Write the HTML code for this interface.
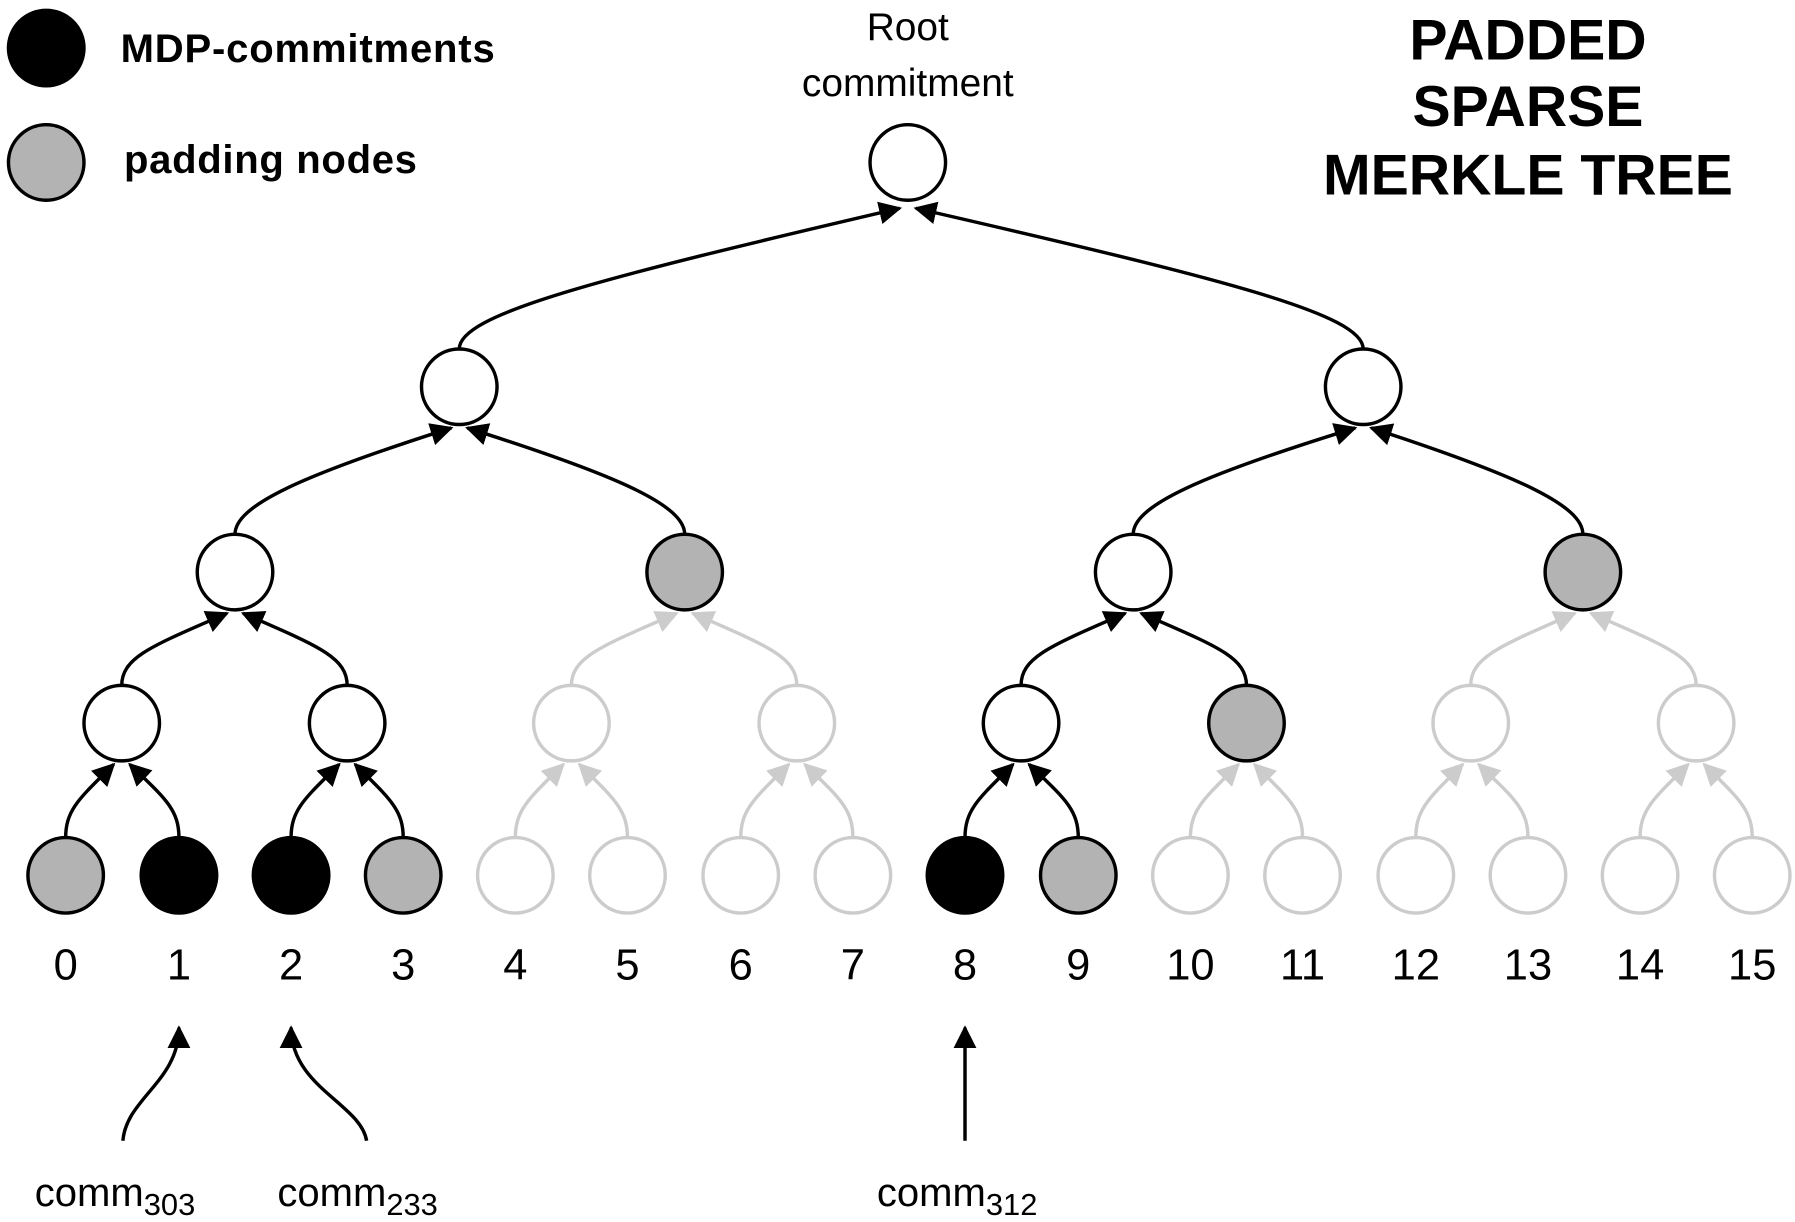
<!DOCTYPE html>
<html><head><meta charset="utf-8"><style>
html,body{margin:0;padding:0;background:#fff;}
svg{display:block;}
text{font-family:"Liberation Sans",sans-serif;}
</style></head><body>
<svg width="1795" height="1222" viewBox="0 0 1568 1068" xmlns="http://www.w3.org/2000/svg">
<defs>
<marker id="abk" viewBox="0 0 10 10" refX="9" refY="5" markerWidth="20" markerHeight="20" orient="auto" markerUnits="userSpaceOnUse"><path d="M0,0 L10,5 L0,10 z" fill="#000"/></marker>
<marker id="agr" viewBox="0 0 10 10" refX="9" refY="5" markerWidth="20" markerHeight="20" orient="auto" markerUnits="userSpaceOnUse"><path d="M0,0 L10,5 L0,10 z" fill="#ccc"/></marker>
</defs>
<g fill="none" stroke-width="3" stroke="#000" marker-end="url(#abk)">
<path d="M57,732 C57,707 70,697 99,668"/>
<path d="M156,732 C156,707 143,697 113,668"/>
<path d="M254,732 C254,707 267,697 296,668"/>
<path d="M352,732 C352,707 339,697 310,668"/>
<path d="M843,732 C843,707 856,697 885,668"/>
<path d="M942,732 C942,707 929,697 899,668"/>
<path d="M106,599 C106,574 134,564 198,536"/>
<path d="M303,599 C303,574 276,564 212,536"/>
<path d="M892,599 C892,574 919,564 983,536"/>
<path d="M1089,599 C1089,574 1061,564 997,536"/>
<path d="M205,467 C205,442 262,416 394,374"/>
<path d="M598,467 C598,442 541,416 408,374"/>
<path d="M990,467 C990,442 1048,416 1184,374"/>
<path d="M1383,467 C1383,442 1327,416 1198,374"/>
<path d="M401,305 C401,275 516,245 786,182"/>
<path d="M1191,305 C1191,275 1074,245 800,182"/>
</g>
<g fill="none" stroke-width="3" stroke="#ccc" marker-end="url(#agr)">
<path d="M450,732 C450,707 463,697 492,668"/>
<path d="M548,732 C548,707 535,697 506,668"/>
<path d="M647,732 C647,707 660,697 689,668"/>
<path d="M745,732 C745,707 733,697 703,668"/>
<path d="M1040,732 C1040,707 1053,697 1082,668"/>
<path d="M1138,732 C1138,707 1125,697 1096,668"/>
<path d="M1237,732 C1237,707 1249,697 1278,668"/>
<path d="M1335,732 C1335,707 1322,697 1292,668"/>
<path d="M1433,732 C1433,707 1446,697 1475,668"/>
<path d="M1531,732 C1531,707 1518,697 1489,668"/>
<path d="M499,599 C499,574 527,564 591,536"/>
<path d="M696,599 C696,574 669,564 605,536"/>
<path d="M1285,599 C1285,574 1312,564 1376,536"/>
<path d="M1482,599 C1482,574 1454,564 1390,536"/>
</g>
<g stroke-width="3" stroke="#000">
<circle cx="57" cy="765" r="33" fill="#b3b3b3"/>
<circle cx="156" cy="765" r="33" fill="#000"/>
<circle cx="254" cy="765" r="33" fill="#000"/>
<circle cx="352" cy="765" r="33" fill="#b3b3b3"/>
<circle cx="843" cy="765" r="33" fill="#000"/>
<circle cx="942" cy="765" r="33" fill="#b3b3b3"/>
<circle cx="106" cy="632" r="33" fill="#fff"/>
<circle cx="303" cy="632" r="33" fill="#fff"/>
<circle cx="892" cy="632" r="33" fill="#fff"/>
<circle cx="1089" cy="632" r="33" fill="#b3b3b3"/>
<circle cx="205" cy="500" r="33" fill="#fff"/>
<circle cx="598" cy="500" r="33" fill="#b3b3b3"/>
<circle cx="990" cy="500" r="33" fill="#fff"/>
<circle cx="1383" cy="500" r="33" fill="#b3b3b3"/>
<circle cx="401" cy="338" r="33" fill="#fff"/>
<circle cx="1191" cy="338" r="33" fill="#fff"/>
<circle cx="793" cy="142" r="33" fill="#fff"/>
</g>
<g stroke-width="3" stroke="#ccc" fill="#fff">
<circle cx="450" cy="765" r="33"/><circle cx="548" cy="765" r="33"/>
<circle cx="647" cy="765" r="33"/><circle cx="745" cy="765" r="33"/>
<circle cx="1040" cy="765" r="33"/><circle cx="1138" cy="765" r="33"/>
<circle cx="1237" cy="765" r="33"/><circle cx="1335" cy="765" r="33"/>
<circle cx="1433" cy="765" r="33"/><circle cx="1531" cy="765" r="33"/>
<circle cx="499" cy="632" r="33"/><circle cx="696" cy="632" r="33"/>
<circle cx="1285" cy="632" r="33"/><circle cx="1482" cy="632" r="33"/>
</g>
<g font-size="38" text-anchor="middle" fill="#000">
<text x="57" y="856">0</text><text x="156" y="856">1</text><text x="254" y="856">2</text><text x="352" y="856">3</text>
<text x="450" y="856">4</text><text x="548" y="856">5</text><text x="647" y="856">6</text><text x="745" y="856">7</text>
<text x="843" y="856">8</text><text x="942" y="856">9</text><text x="1040" y="856">10</text><text x="1138" y="856">11</text>
<text x="1237" y="856">12</text><text x="1335" y="856">13</text><text x="1433" y="856">14</text><text x="1531" y="856">15</text>
</g>
<text x="793" y="35" font-size="34" text-anchor="middle">Root</text>
<text x="793" y="84" font-size="34" text-anchor="middle">commitment</text>
<g font-family="DejaVu Sans" font-weight="bold" font-size="50" text-anchor="middle" fill="#000" transform="translate(1335,0)">
<text x="0" y="52">PADDED</text><text x="0" y="110">SPARSE</text><text x="0" y="170">MERKLE TREE</text>
</g>
<circle cx="40" cy="42" r="33" fill="#000" stroke="#000" stroke-width="3"/>
<text x="105" y="54" font-size="35" font-weight="bold" textLength="327">MDP-commitments</text>
<circle cx="40" cy="142" r="33" fill="#b3b3b3" stroke="#000" stroke-width="3"/>
<text x="108" y="151" font-size="35" font-weight="bold" textLength="256">padding nodes</text>
<g fill="none" stroke="#000" stroke-width="3">
<path d="M107,997 C110,960 156,945 156,898" marker-end="url(#abk)"/>
<path d="M320,997 C315,965 254,950 254,898" marker-end="url(#abk)"/>
<path d="M843,997 L843,898" marker-end="url(#abk)"/>
</g>
<g font-size="35">
<text x="30" y="1054">comm<tspan font-size="27" dy="8">303</tspan></text>
<text x="242" y="1054">comm<tspan font-size="27" dy="8">233</tspan></text>
<text x="766" y="1054">comm<tspan font-size="27" dy="8">312</tspan></text>
</g>
</svg>
</body></html>
